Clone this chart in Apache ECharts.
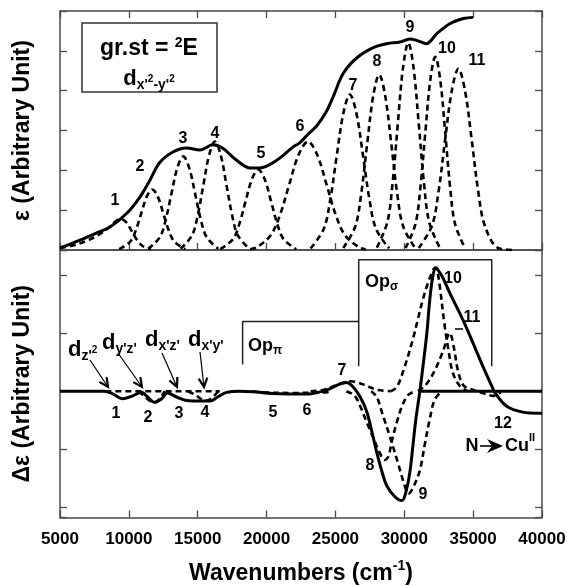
<!DOCTYPE html>
<html><head><meta charset="utf-8">
<script src="https://cdn.jsdelivr.net/npm/echarts@6/dist/echarts.min.js"></script>
<style>html,body{margin:0;padding:0;background:#fff}#c{width:569px;height:586px}</style>
</head><body><div id="c"></div>
<script>
// ---------------- data ----------------
const xMin = 5000, xMax = 40000, xStep = 5000;
const xTickLabels = ['5000','10000','15000','20000','25000','30000','35000','40000'];

// upper panel: absorption envelope (solid) and Gaussian components 1..11 (dashed)
const topEnvelope = [[5000,0.05],[6450,0.25],[7600,0.42],[8630,0.58],[9870,0.93],[10800,1.33],[11540,1.76],[12230,2.19],[13200,2.46],[14200,2.56],[15150,2.51],[16100,2.64],[16800,2.56],[17800,2.26],[18800,2.06],[19500,2.06],[20770,2.26],[21930,2.59],[22400,2.69],[23000,2.9],[23650,3.12],[24300,3.45],[24840,3.85],[25560,4.43],[26540,4.82],[27750,5.08],[28740,5.18],[29680,5.22],[30400,5.3],[31000,5.25],[31600,5.18],[32360,5.43],[33300,5.68],[34290,5.81],[34990,5.84]];
const topBand1 = [[5000,0.05],[6000,0.12],[7000,0.24],[7800,0.38],[8400,0.52],[8900,0.68],[9400,0.78],[9800,0.7],[10200,0.48],[10600,0.25],[11000,0.1],[11600,0.01]];
const topBand2 = [[9300,0.02],[10100,0.21],[10500,0.49],[10900,0.92],[11300,1.34],[11700,1.52],[12100,1.34],[12500,0.92],[12900,0.49],[13300,0.21],[14100,0.02]];
const topBand3 = [[11400,0.03],[12250,0.32],[12675,0.76],[13100,1.43],[13525,2.07],[13950,2.35],[14375,2.07],[14800,1.43],[15225,0.76],[15650,0.32],[16500,0.03]];
const topBand4 = [[13760,0.03],[14590,0.37],[15005,0.88],[15420,1.65],[15835,2.39],[16250,2.72],[16665,2.39],[17080,1.65],[17495,0.88],[17910,0.37],[18740,0.03]];
const topBand5 = [[16640,0.02],[17560,0.27],[18020,0.65],[18480,1.23],[18940,1.78],[19400,2.02],[19860,1.78],[20320,1.23],[20780,0.65],[21240,0.27],[22160,0.02]];
const topBand6 = [[18800,0.02],[19300,0.07],[20300,0.37],[20975,0.88],[21650,1.65],[22325,2.39],[23000,2.72],[23675,2.39],[24350,1.65],[25025,0.88],[25700,0.37],[26700,0.07],[27200,0.02]];
const topBand7 = [[23200,0.04],[24150,0.53],[24625,1.26],[25100,2.38],[25575,3.43],[26050,3.9],[26525,3.43],[27000,2.38],[27475,1.26],[27950,0.53],[28900,0.04]];
const topBand8 = [[25570,0.05],[26440,0.59],[26875,1.42],[27310,2.68],[27745,3.87],[28180,4.4],[28615,3.87],[29050,2.68],[29485,1.42],[29920,0.59],[30790,0.05]];
const topBand9 = [[28010,0.06],[28770,0.7],[29150,1.68],[29530,3.17],[29910,4.58],[30290,5.2],[30670,4.58],[31050,3.17],[31430,1.68],[31810,0.7],[32570,0.06]];
const topBand10 = [[30090,0.05],[30810,0.65],[31170,1.57],[31530,2.96],[31890,4.27],[32250,4.85],[32610,4.27],[32970,2.96],[33330,1.57],[33690,0.65],[34410,0.05]];
const topBand11 = [[31050,0.05],[32010,0.61],[32490,1.47],[32970,2.78],[33450,4.0],[33930,4.55],[34410,4.0],[34890,2.78],[35370,1.47],[35850,0.61],[36810,0.05],[37900,0.0]];

// lower panel: MCD-like signal (solid) and components (dashed)
const bottomCurve = [[5000,0],[8200,0],[8800,-0.04],[9550,-0.13],[10270,-0.08],[10920,-0.02],[11360,-0.1],[11870,-0.19],[12380,-0.13],[12800,-0.03],[13470,-0.1],[14200,-0.16],[15140,-0.17],[15900,-0.17],[16450,-0.1],[17100,-0.02],[18040,0],[19000,-0.01],[20440,-0.04],[22920,-0.05],[24080,0],[24580,0.04],[25300,0.12],[25820,0.15],[26260,0.08],[26800,-0.1],[27270,-0.35],[27700,-0.75],[28000,-1.05],[28400,-1.4],[28720,-1.62],[29300,-1.81],[29830,-1.88],[30100,-1.75],[30400,-1.4],[30620,-0.95],[30830,-0.5],[31130,0],[31420,0.55],[31640,1.0],[31850,1.57],[32070,1.97],[32290,2.12],[32430,2.09],[32800,1.95],[33300,1.69],[34250,1.23],[34970,0.84],[35700,0.43],[36350,0.09],[36570,-0.02],[37440,-0.26],[38600,-0.36],[39840,-0.38],[40000,-0.38]];
const bottomZeroRight = [[31130,0],[40000,0]];
const bottomDashLow = [[8300,0],[16600,0]];
const bottomBand2 = [[10700,0],[11100,-0.08],[11500,-0.16],[11900,-0.19],[12300,-0.11],[12600,0]];
const bottomBand4 = [[14300,0],[14800,-0.06],[15300,-0.14],[15700,-0.16],[16100,-0.1],[16500,0]];
const bottomBand56 = [[19000,0],[19800,-0.02],[22000,-0.03],[24300,-0.02],[24800,0]];
const bottomBand7 = [[23200,0],[24100,0.02],[24600,0.06],[25100,0.11],[25600,0.15],[26100,0.17],[26600,0.15],[27100,0.11],[27600,0.06],[28100,0.02],[29000,0]];
const bottomBand8 = [[25800,0],[26400,-0.08],[26800,-0.26],[27300,-0.55],[27700,-0.77],[28100,-1.0],[28600,-1.18],[28850,-1.12],[29100,-0.85],[29500,-0.5],[29900,-0.22],[30300,-0.06],[30800,0]];
const bottomBand9 = [[27600,0],[28000,-0.1],[28400,-0.38],[28940,-0.77],[29500,-1.2],[30000,-1.6],[30300,-1.76],[30650,-1.65],[31130,-1.36],[31500,-0.9],[31850,-0.48],[32200,-0.15],[32700,0]];
const bottomBand10 = [[29000,0],[29450,0.07],[30000,0.4],[30620,0.89],[31000,1.25],[31340,1.57],[31700,1.85],[32000,2.03],[32215,2.12],[32400,2.05],[32580,1.8],[32940,1.11],[33200,0.72],[33520,0.32],[34030,0.09],[34600,0]];
const bottomBand11 = [[31000,0],[31600,0.12],[32200,0.35],[32800,0.68],[33300,1.0],[33600,0.75],[33900,0.35],[34300,0.1],[35000,0.02],[35800,-0.04],[36500,-0.08],[37000,-0.02]];

// bracket annotations (data coordinates)
const opPiBracket = [[18260,0.46],[18260,1.2],[26690,1.2]];
const opSigmaBracket = [[26690,0.43],[26690,2.26],[36350,2.26],[36350,0.43]];

// ---------------- chart ----------------
const FONT = '"Liberation Sans", Arial, Helvetica, sans-serif';
const FRAME = '#4a4a4a';
const chart = echarts.init(document.getElementById('c'));

function xAx(grid, pos, showLabel, showTick, extra) {
  return Object.assign({
    type:'value', gridIndex:grid, position:pos, min:xMin, max:xMax, interval:xStep,
    axisLine:{show:true, onZero:false, lineStyle:{color:FRAME, width:1.5}},
    axisTick:{show:showTick, inside:true, length:7, lineStyle:{color:FRAME, width:1.3}},
    axisLabel:{show:showLabel, fontFamily:FONT, fontWeight:'bold', fontSize:17, color:'#000', margin:13,
      formatter: v => xTickLabels[Math.round((v - xMin) / xStep)] || ''},
    splitLine:{show:false}
  }, extra || {});
}
function yAx(grid, pos, range, extra) {
  return Object.assign({
    type:'value', gridIndex:grid, position:pos, min:range[0], max:range[1],
    axisLine:{show:true, onZero:false, lineStyle:{color:FRAME, width:1.5}},
    axisTick:{show:true, inside:true, length:7, lineStyle:{color:FRAME, width:1.3}},
    axisLabel:{show:false}, splitLine:{show:false}
  }, extra || {});
}
function line(data, xi, yi, dashed, z) {
  return {type:'line', xAxisIndex:xi, yAxisIndex:yi, data, showSymbol:false, symbol:'none',
    smooth:0.35, z: z || 2, silent:true, animation:false,
    lineStyle:{color:'#000', width: dashed ? 2.6 : 3, type: dashed ? [6,4] : 'solid', cap:'butt'}};
}
function bracket(data) {
  return {type:'line', xAxisIndex:2, yAxisIndex:2, data, showSymbol:false, symbol:'none', z:1,
    silent:true, animation:false, lineStyle:{color:'#222', width:1.5}};
}

function T(x, y, text, size, align) {
  return {type:'text', x, y, z:50, style:{text, font:`bold ${size}px ${FONT}`, fill:'#000',
    align: align || 'center', verticalAlign:'middle'}};
}
function R(x, y, text, rich, align) {
  return {type:'text', x, y, z:50, style:{text, rich, fill:'#000', fontFamily:FONT, fontWeight:'bold',
    align: align || 'left', verticalAlign:'middle'}};
}
function arrow(x1, y1, x2, y2) {
  const a = Math.atan2(y2 - y1, x2 - x1), L = 10, w = 0.45;
  return [
    {type:'line', z:50, shape:{x1, y1, x2, y2}, style:{stroke:'#000', lineWidth:1.2}},
    {type:'polyline', z:50, shape:{points:[[x2 - L*Math.cos(a - w), y2 - L*Math.sin(a - w)], [x2, y2],
      [x2 - L*Math.cos(a + w), y2 - L*Math.sin(a + w)]]}, style:{stroke:'#000', lineWidth:2.2, fill:null}}
  ];
}
const dRich = {
  d:{fontSize:22, fontWeight:'bold', fontFamily:FONT, lineHeight:26},
  b:{fontSize:14, fontWeight:'bold', fontFamily:FONT, lineHeight:14, verticalAlign:'bottom'},
  c:{fontSize:10, fontWeight:'bold', fontFamily:FONT, verticalAlign:'top', padding:[8,0,0,0]}
};
const opRich = {
  a:{fontSize:18, fontWeight:'bold', fontFamily:FONT, lineHeight:22},
  b:{fontSize:12, fontWeight:'bold', fontFamily:FONT, lineHeight:12, verticalAlign:'bottom'}
};

const graphics = [
  {type:'rect', z:40, shape:{x:82, y:23, width:135, height:69}, style:{stroke:'#333', lineWidth:1.5, fill:'#fff'}},
  R(149, 49, '{a|gr.st = }{s|2}{a|E}', {
    a:{fontSize:23, fontWeight:'bold', fontFamily:FONT, lineHeight:26},
    s:{fontSize:14, fontWeight:'bold', fontFamily:FONT, lineHeight:14, verticalAlign:'top'}}, 'center'),
  R(149, 79, "{d|d}{b|x'}{c|2}{b|-y'}{c|2}", dRich, 'center'),
  // top numbers
  T(115,201,'1',16), T(140,167,'2',16), T(183,139,'3',16), T(215,134,'4',16), T(261,154,'5',16),
  T(300,127,'6',16), T(353,86,'7',16), T(377,62,'8',16), T(410,28,'9',16), T(447,49,'10',16), T(477,61,'11',16),
  // bottom numbers
  T(116,414,'1',16), T(148,418,'2',16), T(179,414,'3',16), T(205,413,'4',16), T(273,413,'5',16), T(307,411,'6',16),
  T(342,371,'7',16), T(370,466,'8',16), T(423,495,'9',16), T(453,279,'10',16), T(472,318,'11',16), T(503,424,'12',16),
  {type:'line', z:50, shape:{x1:455, y1:329, x2:463, y2:329}, style:{stroke:'#000', lineWidth:1.5}},
  // N -> Cu(II)
  T(472,446,'N',18),
  {type:'line', z:50, shape:{x1:480, y1:446, x2:493, y2:446}, style:{stroke:'#000', lineWidth:1.6}},
  {type:'polygon', z:50, shape:{points:[[503,446],[487,439],[492,446],[487,453]]}, style:{fill:'#000'}},
  T(505,446,'Cu',18,'left'), T(529,438,'II',11,'left'),
  // d-orbital labels
  R(68,350,"{d|d}{b|z'}{c|2}", dRich), R(102,343,"{d|d}{b|y'z'}", dRich),
  R(145,340,"{d|d}{b|x'z'}", dRich), R(188,340,"{d|d}{b|x'y'}", dRich),
  ...arrow(90,360,108,387), ...arrow(118,353,142,387), ...arrow(162,353,177,387), ...arrow(200,352,204,387),
  // Op labels
  R(248,346,'{a|Op}{b|π}', opRich), R(365,282,'{a|Op}{b|σ}', opRich)
];

const option = {
  animation:false,
  grid:[{left:60, right:27, top:11, height:239}, {left:60, right:27, top:250, height:269}],
  xAxis:[
    xAx(0,'bottom',false,true),
    xAx(0,'top',false,true),
    xAx(1,'bottom',true,true,{name:'{a|Wavenumbers (cm}{s|-1}{a|)}', nameLocation:'middle', nameGap:42,
      nameTextStyle:{rich:{a:{fontSize:23, fontWeight:'bold', fontFamily:FONT, color:'#000', lineHeight:28},
        s:{fontSize:14, fontWeight:'bold', fontFamily:FONT, color:'#000', lineHeight:14, verticalAlign:'top'}}}}),
    xAx(1,'top',false,false)
  ],
  yAxis:[
    yAx(0,'left',[0,6],{interval:1, name:'ε (Arbitrary Unit)', nameLocation:'middle', nameGap:26,
      nameTextStyle:{fontFamily:FONT, fontWeight:'bold', fontSize:23, color:'#000'}}),
    yAx(0,'right',[0,6],{interval:1}),
    yAx(1,'left',[-2.171,2.427],{splitNumber:5, name:'Δε (Arbitrary Unit)', nameLocation:'middle', nameGap:26,
      nameTextStyle:{fontFamily:FONT, fontWeight:'bold', fontSize:23, color:'#000'}}),
    yAx(1,'right',[-2.171,2.427],{splitNumber:5})
  ],
  series:[
    line(topBand1,0,0,true), line(topBand2,0,0,true), line(topBand3,0,0,true), line(topBand4,0,0,true),
    line(topBand5,0,0,true), line(topBand6,0,0,true), line(topBand7,0,0,true), line(topBand8,0,0,true),
    line(topBand9,0,0,true), line(topBand10,0,0,true), line(topBand11,0,0,true),
    line(topEnvelope,0,0,false,5),
    line(bottomDashLow,2,2,true), line(bottomBand2,2,2,true), line(bottomBand4,2,2,true), line(bottomBand56,2,2,true),
    line(bottomBand7,2,2,true), line(bottomBand8,2,2,true), line(bottomBand9,2,2,true),
    line(bottomBand10,2,2,true), line(bottomBand11,2,2,true),
    line(bottomZeroRight,2,2,false,4), line(bottomCurve,2,2,false,5),
    bracket(opPiBracket), bracket(opSigmaBracket)
  ],
  graphic: graphics
};
chart.setOption(option);
</script></body></html>
